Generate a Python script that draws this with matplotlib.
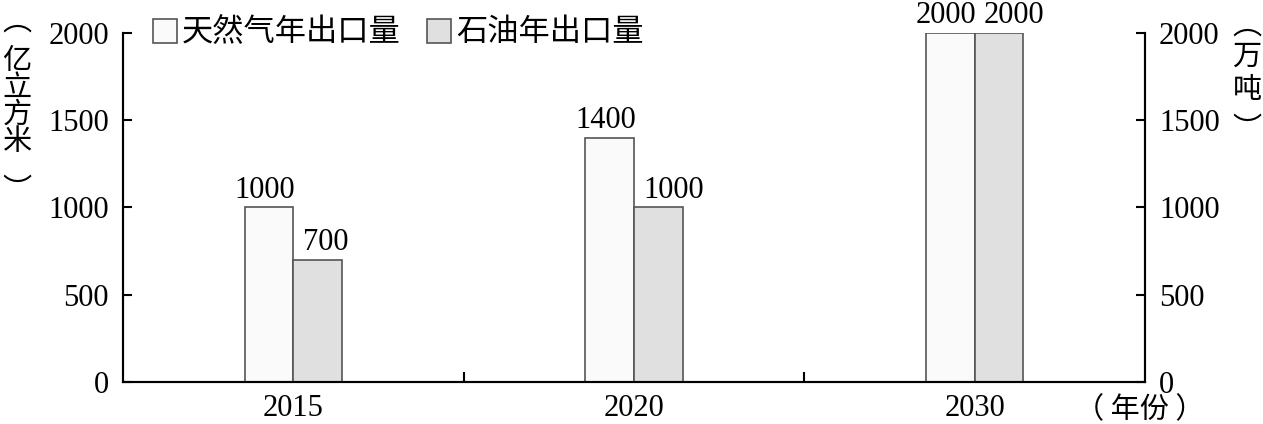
import matplotlib
matplotlib.use('Agg')
import matplotlib.pyplot as plt
import numpy as np

plt.rcParams['font.family'] = ['Liberation Serif', 'Noto Sans CJK SC']

years = ['2015', '2020', '2030']
gas = [1000, 1400, 2000]   # 亿立方米
oil = [700, 1000, 2000]    # 万吨
yticks = [0, 500, 1000, 1500, 2000]
left_unit = ['亿', '立', '方', '米']
right_unit = ['万', '吨']

W, H = 1263, 424
fig = plt.figure(figsize=(W / 100, H / 100), dpi=100)
ax = fig.add_axes([123 / W, 1 - 382 / H, 1022 / W, 349 / H])

x = np.arange(len(years))
w = 0.143
b1 = ax.bar(x - w / 2, gas, w, color='#fafafa', edgecolor='#555555', linewidth=1.2, label='天然气年出口量')
b2 = ax.bar(x + w / 2, oil, w, color='#e0e0e0', edgecolor='#555555', linewidth=1.2, label='石油年出口量')

# value labels: gas right-aligned to the bar's right edge, oil left-aligned just inside its bar
for i in range(len(years)):
    ax.text(x[i] + 0.005, gas[i] + 57, str(gas[i]), ha='right', va='baseline', fontsize=22)
    ax.text(x[i] + 0.027, oil[i] + 57, str(oil[i]), ha='left', va='baseline', fontsize=22)

ax.set_xlim(-0.5, 2.5)
ax.set_ylim(0, 2000)
ax.set_xticks(x)
ax.set_xticklabels(years, fontsize=22)
ax.set_xticks([0.5, 1.5], minor=True)
ax.tick_params(axis='x', which='major', length=0, pad=9)
ax.tick_params(axis='x', which='minor', direction='in', length=7, width=1.5)
ax.set_yticks(yticks)
ax.tick_params(axis='y', direction='in', length=6.5, width=1.5, labelsize=22, pad=10)

ax2 = ax.twinx()
ax2.set_ylim(0, 2000)
ax2.set_yticks(yticks)
ax2.tick_params(axis='y', direction='in', length=6.5, width=1.5, labelsize=22, pad=10)

for a in (ax, ax2):
    a.spines['top'].set_visible(False)
    for s in ('left', 'right', 'bottom'):
        a.spines[s].set_linewidth(1.5)

ax.legend(handles=[b1, b2], loc='upper left', bbox_to_anchor=(17 / 1022, 1 + 27 / 349), ncol=2,
          frameon=False, fontsize=22.5, handlelength=0.78, handleheight=0.8,
          handletextpad=0.15, columnspacing=0.85, borderaxespad=0)


def vertical_label(xc, top, first, pitch, bottom, chars):
    # stacked CJK characters with vertical-form brackets; the bracket glyphs sit
    # off-centre in their em box, so nudge them to put the ink where wanted
    cjk = ['Noto Sans CJK SC']
    fig.text(xc / W, 1 - (top - 6) / H, '︵', ha='center', va='center', fontsize=21, family=cjk)
    for k, c in enumerate(chars):
        fig.text(xc / W, 1 - (first + k * pitch) / H, c, ha='center', va='center',
                 fontsize=21, family=cjk)
    fig.text(xc / W, 1 - (bottom + 12.5) / H, '︶', ha='center', va='center', fontsize=21, family=cjk)


vertical_label(17, 28, 61, 27, 178, left_unit)
vertical_label(1247, 32, 57, 33, 117, right_unit)

fig.text(1140 / W, 1 - 410 / H, '（ 年份 ）', ha='center', va='center', fontsize=21,
         family=['Noto Sans CJK SC'])

fig.savefig('out.png', dpi=100)
